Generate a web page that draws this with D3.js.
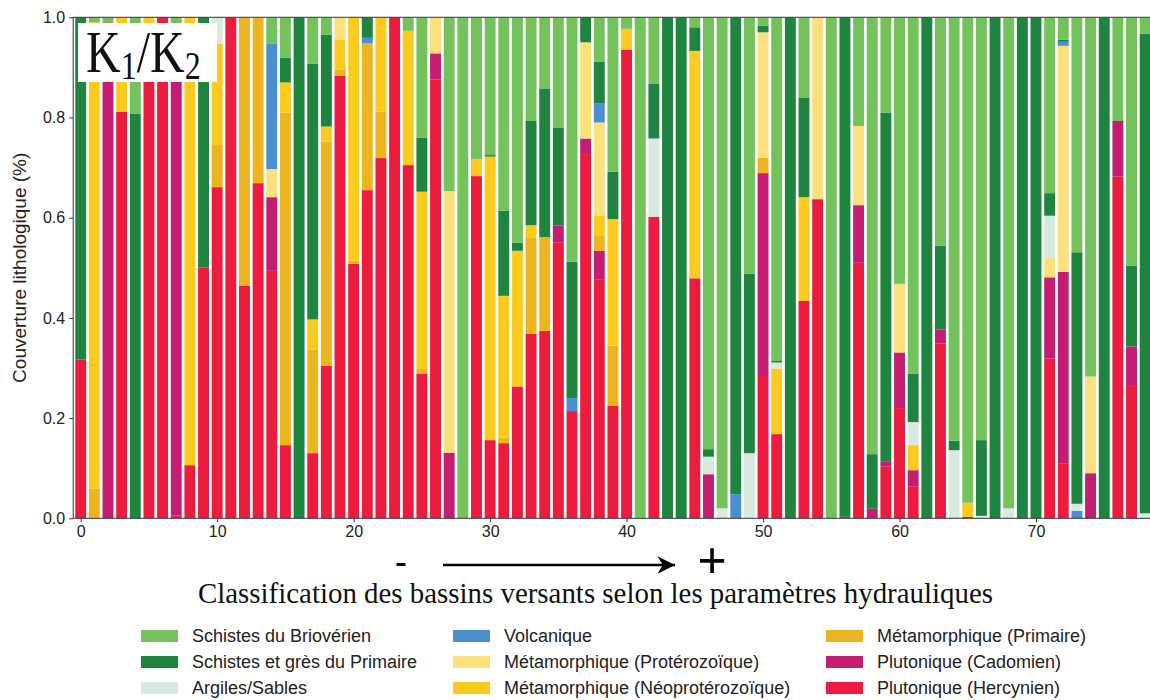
<!DOCTYPE html>
<html>
<head>
<meta charset="utf-8">
<script src="https://cdn.jsdelivr.net/npm/d3@7"></script>
<style>
  html, body { margin: 0; padding: 0; background: #fff; }
  svg { display: block; }
</style>
</head>
<body>
<svg id="chart" width="1150" height="700"></svg>
<script>
// Lithological cover of each catchment (fraction of area), catchments 0..78
const basins = d3.range(79);

const hercynien = [
  .317,0,0,.811,0,.988,1,.006,.106,.501,
  .661,1,.464,.669,.494,.146,0,.130,.304,.883,
  .508,.655,.719,1,.705,.289,.876,0,0,.683,
  .156,.150,.263,.368,.374,.551,.214,.727,.476,.225,
  .935,0,.602,0,0,.479,0,0,0,0,
  .284,.168,0,.434,.637,0,.003,.510,0,.103,
  .220,.063,0,.349,0,.003,0,0,0,0,
  0,.319,.110,0,0,0,.682,.266,0
];
const cadomien = [
  0,0,.990,0,0,0,0,.982,0,0,
  0,0,0,0,.147,0,0,0,0,0,
  0,0,0,0,0,0,.052,.131,0,0,
  0,0,0,0,0,.033,0,.031,.058,0,
  0,0,0,0,0,0,.088,0,0,0,
  .405,0,0,0,0,0,0,.115,.019,.011,
  .111,.033,0,.028,0,0,0,0,0,0,
  0,.162,.382,0,.090,0,.111,.077,0
];
const metaPrimaire = [
  0,.059,0,0,0,0,0,0,0,0,
  .084,0,.536,.331,0,.664,0,.207,.448,.013,
  .006,.293,.093,0,0,.009,0,0,0,0,
  0,.011,0,.193,.187,0,0,0,.031,.120,
  0,0,0,0,0,0,0,0,0,0,
  .031,0,0,0,0,0,0,0,0,0,
  0,0,0,0,0,0,0,0,0,0,
  0,0,0,0,0,0,0,0,0
];
const metaNeoproterozoique = [
  0,.931,0,.189,0,.012,0,0,.894,0,
  .203,0,0,0,0,.060,0,.060,.030,.060,
  .486,0,.188,0,.268,.354,0,0,0,.034,
  .566,.283,.271,.024,0,0,0,0,.039,.252,
  .042,0,0,0,0,.454,0,0,0,0,
  0,.131,0,.207,0,0,0,0,0,0,
  0,.050,0,0,0,.028,0,0,0,0,
  0,0,0,0,0,0,0,0,0
];
const metaProterozoique = [
  0,0,0,0,0,0,0,0,0,0,
  0,0,0,0,.056,0,0,0,0,.044,
  0,0,0,0,0,0,.072,.522,0,0,
  0,0,0,0,0,0,0,.192,.186,0,
  0,0,0,0,0,0,0,0,0,0,
  .250,0,0,0,.363,0,0,.158,0,0,
  .137,0,0,0,0,0,0,0,0,0,
  0,.040,.451,0,.193,0,0,0,0
];
const volcanique = [
  0,0,0,0,0,0,0,0,0,0,
  0,0,0,0,.251,0,0,0,0,0,
  0,.011,0,0,0,0,0,0,0,0,
  0,0,0,0,0,0,.026,0,.038,0,
  0,0,0,0,0,0,0,0,.048,0,
  0,0,0,0,0,0,0,0,0,0,
  0,0,0,0,0,0,0,0,0,0,
  0,0,.008,.015,0,0,0,0,0
];
const argiles = [
  0,0,0,0,0,0,0,0,0,0,
  .052,0,0,0,0,0,0,0,0,0,
  0,0,0,0,0,0,0,0,0,0,
  0,0,0,0,0,0,0,0,0,0,
  0,0,.156,0,0,0,.035,.020,0,.130,
  0,.012,0,0,0,0,0,0,0,0,
  0,.046,0,0,.136,0,.005,0,.020,0,
  0,.083,0,.014,0,0,0,0,.010
];
const schistesPrimaire = [
  .683,0,0,0,.808,0,0,0,0,.499,
  0,0,0,0,0,.049,1,.510,.183,0,
  0,.041,0,0,0,.108,0,0,0,0,
  .003,.170,.016,.208,.297,.195,.272,.050,.083,.095,
  0,0,.109,1,1,.047,.015,0,.952,.358,
  .013,.003,1,.199,0,0,.997,0,.109,.696,
  0,.097,1,.167,.019,0,.151,1,0,1,
  1,.045,.004,.502,0,1,0,.161,.957
];
const schistesBriov = [
  0,.010,.010,0,.192,0,0,.012,0,0,
  0,0,0,0,.052,.081,0,.093,.035,0,
  0,0,0,0,.027,.240,0,.347,1,.283,
  .275,.386,.450,.207,.142,.221,.488,0,.089,.308,
  .023,1,.133,0,0,.020,.862,.980,0,.512,
  .017,.686,0,.160,0,1,0,.217,.872,.190,
  .532,.711,0,.456,.845,.969,.844,0,.980,0,
  0,.351,.045,.469,.717,0,.207,.496,.033
];

// Stack order, bottom to top
const seriesNames = [
  "Plutonique (Hercynien)",
  "Plutonique (Cadomien)",
  "Métamorphique (Primaire)",
  "Métamorphique (Néoprotérozoïque)",
  "Métamorphique (Protérozoïque)",
  "Volcanique",
  "Argiles/Sables",
  "Schistes et grès du Primaire",
  "Schistes du Briovérien"
];
const seriesValues = [hercynien, cadomien, metaPrimaire, metaNeoproterozoique,
  metaProterozoique, volcanique, argiles, schistesPrimaire, schistesBriov];
const seriesColors = ["#ec1c3e", "#c51d72", "#edb421", "#fdca1e", "#fbe17d",
  "#4a8fcf", "#d7eadf", "#208441", "#74c25b"];

// Legend reading order (three columns of three)
const legendOrder = [
  "Schistes du Briovérien", "Schistes et grès du Primaire", "Argiles/Sables",
  "Volcanique", "Métamorphique (Protérozoïque)", "Métamorphique (Néoprotérozoïque)",
  "Métamorphique (Primaire)", "Plutonique (Cadomien)", "Plutonique (Hercynien)"
];

const yTicks = [0, 0.2, 0.4, 0.6, 0.8, 1.0];
const xTicks = [0, 10, 20, 30, 40, 50, 60, 70];

const table = basins.map((b, i) => {
  const row = { basin: b };
  seriesNames.forEach((n, k) => { row[n] = seriesValues[k][i]; });
  return row;
});
const color = d3.scaleOrdinal().domain(seriesNames).range(seriesColors);

const svg = d3.select("#chart");
const plot = { left: 73.2, right: 1152, top: 17.3, bottom: 518.3 };

const x = d3.scaleLinear().domain([-0.55, 78.5]).range([plot.left, plot.right]);
const y = d3.scaleLinear().domain([0, 1]).range([plot.bottom, plot.top]);
const barW = 0.8;

svg.append("defs").append("clipPath").attr("id", "plotClip")
  .append("rect")
  .attr("x", plot.left).attr("y", plot.top)
  .attr("width", plot.right - plot.left).attr("height", plot.bottom - plot.top);

const stack = d3.stack().keys(seriesNames);
const layers = stack(table);

const barsG = svg.append("g").attr("clip-path", "url(#plotClip)");
barsG.selectAll("g.layer")
  .data(layers)
  .join("g")
  .attr("class", "layer")
  .attr("fill", d => color(d.key))
  .selectAll("rect")
  .data(d => d.filter(s => s[1] - s[0] > 0))
  .join("rect")
  .attr("x", d => x(d.data.basin - barW / 2))
  .attr("width", x(barW) - x(0))
  .attr("y", d => y(d[1]))
  .attr("height", d => y(d[0]) - y(d[1]));

// Axes frame
svg.append("rect")
  .attr("x", plot.left).attr("y", plot.top)
  .attr("width", plot.right - plot.left).attr("height", plot.bottom - plot.top)
  .attr("fill", "none").attr("stroke", "#333").attr("stroke-width", 1);

const yAxis = d3.axisLeft(y).tickValues(yTicks).tickFormat(d3.format(".1f"))
  .tickSize(4).tickPadding(4);
const yG = svg.append("g").attr("transform", `translate(${plot.left},0)`).call(yAxis);
const xAxis = d3.axisBottom(x).tickValues(xTicks).tickFormat(d3.format("d"))
  .tickSize(4).tickPadding(3);
const xG = svg.append("g").attr("transform", `translate(0,${plot.bottom})`).call(xAxis);
[yG, xG].forEach(g => {
  g.select(".domain").remove();
  g.selectAll("line").attr("stroke", "#333");
  g.selectAll("text").attr("fill", "#222")
    .style("font-family", "'Liberation Sans', Arial, sans-serif")
    .style("font-size", "16px");
});

svg.append("text")
  .attr("transform", `translate(26,${(plot.top + plot.bottom) / 2}) rotate(-90)`)
  .attr("text-anchor", "middle")
  .style("font-family", "'Liberation Sans', Arial, sans-serif")
  .style("font-size", "19px")
  .attr("fill", "#222")
  .text("Couverture lithologique (%)");

// Ratio label box
svg.append("rect")
  .attr("x", 78).attr("y", 23).attr("width", 139).attr("height", 59)
  .attr("fill", "#fff");
const kText = svg.append("text")
  .attr("transform", "translate(86,72) scale(0.8,1)")
  .style("font-family", "'Liberation Serif', 'DejaVu Serif', serif")
  .style("font-size", "60px")
  .attr("fill", "#111");
kText.append("tspan").text("K");
kText.append("tspan").attr("dy", 7).style("font-size", "40px").text("1");
kText.append("tspan").attr("dy", -7).text("/K");
kText.append("tspan").attr("dy", 7).style("font-size", "40px").text("2");

// Direction of increasing hydraulic parameters
svg.append("defs").append("marker")
  .attr("id", "arrowHead").attr("viewBox", "0 0 10 10")
  .attr("refX", 10).attr("refY", 5)
  .attr("markerWidth", 7.5).attr("markerHeight", 7)
  .attr("markerUnits", "strokeWidth")
  .attr("orient", "auto")
  .append("path").attr("d", "M0,0 L10,5 L0,10 L3,5 Z").attr("fill", "#000");
svg.append("line")
  .attr("x1", 443).attr("x2", 675).attr("y1", 565).attr("y2", 565)
  .attr("stroke", "#000").attr("stroke-width", 2.5)
  .attr("marker-end", "url(#arrowHead)");
svg.append("text").attr("x", 401).attr("y", 573).attr("text-anchor", "middle")
  .style("font-family", "'Liberation Serif', serif").style("font-size", "34px")
  .style("font-weight", "bold").text("-");
svg.append("text").attr("x", 712).attr("y", 578).attr("text-anchor", "middle")
  .style("font-family", "'Liberation Serif', serif").style("font-size", "52px")
  .style("font-weight", "bold").text("+");

svg.append("text")
  .attr("x", 198).attr("y", 603)
  .attr("textLength", 795).attr("lengthAdjust", "spacingAndGlyphs")
  .style("font-family", "'Liberation Serif', 'DejaVu Serif', serif")
  .style("font-size", "29px")
  .attr("fill", "#111")
  .text("Classification des bassins versants selon les paramètres hydrauliques");

// Legend
const colX = [141, 453, 826];
const rowY = [636, 662, 688];
const legend = svg.append("g");
legendOrder.forEach((name, i) => {
  const c = Math.floor(i / 3), r = i % 3;
  const g = legend.append("g").attr("transform", `translate(${colX[c]},${rowY[r]})`);
  g.append("rect").attr("x", 0).attr("y", -6).attr("width", 37).attr("height", 12)
    .attr("fill", color(name));
  g.append("text").attr("x", 51).attr("y", 0).attr("dy", "0.35em")
    .style("font-family", "'Liberation Sans', Arial, sans-serif")
    .style("font-size", "18px").attr("fill", "#222")
    .text(name);
});
</script>
</body>
</html>
